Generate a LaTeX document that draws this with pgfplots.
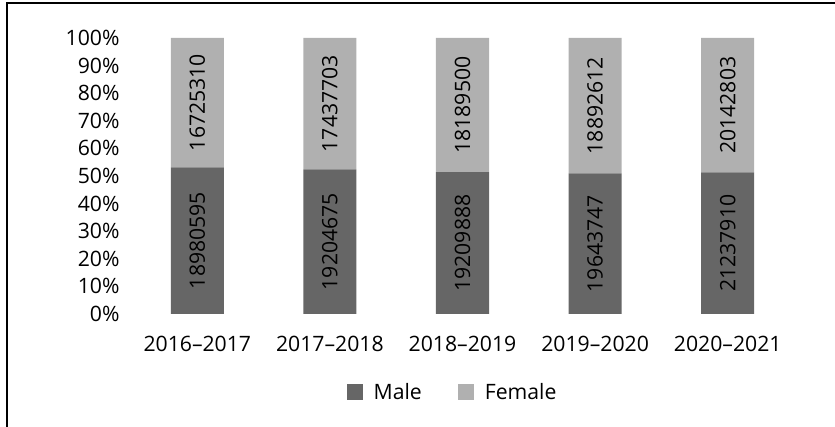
\documentclass[border=0pt]{standalone}
\usepackage{fontspec}
\setmainfont{Open Sans}
\usepackage{pgfplots}
\pgfplotsset{compat=1.18}
\usepackage{pgfplotstable}
\definecolor{maleC}{RGB}{102,102,102}
\definecolor{femaleC}{RGB}{176,176,176}
\newcommand\chartfont{\fontsize{21.2bp}{24bp}\selectfont}

% shares in percent (mp, fp), label heights (mc, fc) and the raw counts
\pgfplotstableread{
x mp fp mc fc male female
0 53.16 46.84 26.58 76.58 18980595 16725310
1 52.41 47.59 26.21 76.21 19204675 17437703
2 51.36 48.64 25.68 75.68 19209888 18189500
3 50.97 49.03 25.49 75.49 19643747 18892612
4 51.32 48.68 25.66 75.66 21237910 20142803
}\shares

\pgfplotsset{
  frame/.style={
    at={(131bp,113bp)}, anchor=south west,
    scale only axis, width=663bp, height=276bp,
    xmin=-0.5, xmax=4.5, ymin=0, ymax=100,
  },
}

\begin{document}
\begin{tikzpicture}
\useasboundingbox (0,0) rectangle (835bp,427bp);
\draw[line width=1.3bp] (7bp,0) -- (7bp,424bp) -- (835bp,424bp);
\begin{axis}[
  frame,
  ybar stacked, bar width=0.4,
  axis line style={draw=none}, tick style={draw=none},
  xtick={0,...,4},
  xticklabels={2016–2017,2017–2018,2018–2019,2019–2020,2020–2021},
  ytick={0,10,...,100},
  yticklabels={0\%,10\%,20\%,30\%,40\%,50\%,60\%,70\%,80\%,90\%,100\%},
  tick label style={font=\chartfont},
  xticklabel style={yshift=-19bp},
  yticklabel style={xshift=-8bp},
  legend style={at={(0.485,-0.283)}, anchor=center, draw=none,
    legend columns=2, font=\chartfont,
    /tikz/every odd column/.append style={column sep=9bp},
    /tikz/every even column/.append style={column sep=34bp}},
  legend image code/.code={\fill[#1] (0bp,-8bp) rectangle (16bp,8bp);},
]
\addplot[fill=maleC, draw=none] table[x=x, y=mp] {\shares};
\addplot[fill=femaleC, draw=none] table[x=x, y=fp] {\shares};
\legend{Male, Female}
\end{axis}
% value labels, centred in each segment
\begin{axis}[
  frame, hide axis,
  nodes near coords, point meta=explicit symbolic,
  every node near coord/.append style={font=\chartfont, text=black, anchor=center, rotate=90},
]
\addplot[only marks, mark options={draw=none, fill=none}] table[x=x, y=mc, meta=male] {\shares};
\addplot[only marks, mark options={draw=none, fill=none}] table[x=x, y=fc, meta=female] {\shares};
\end{axis}
\end{tikzpicture}
\end{document}
